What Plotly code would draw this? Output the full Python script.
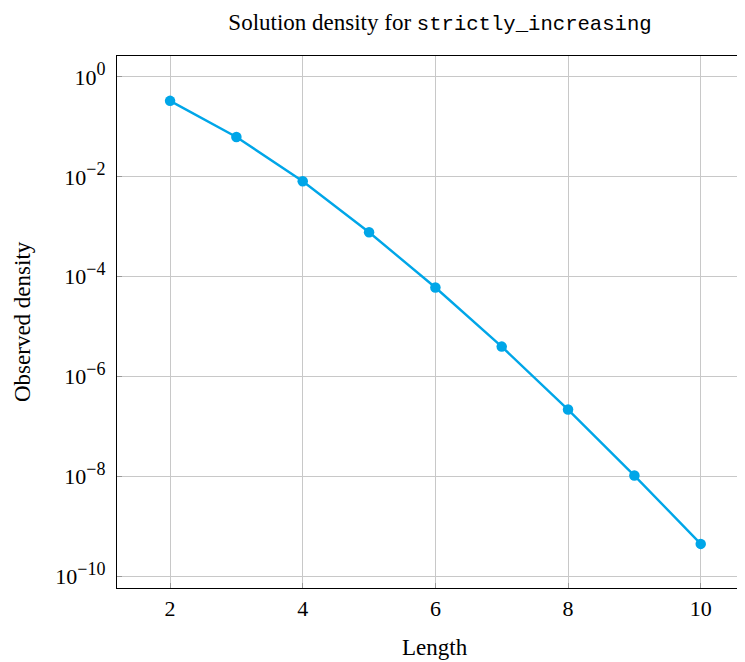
import plotly.graph_objects as go

lengths = [2, 3, 4, 5, 6, 7, 8, 9, 10]
density = [0.333, 0.063, 0.0082, 7.8e-4, 6.1e-5, 4.0e-6, 2.2e-7, 1.05e-8, 4.5e-10]

y_tickvals = [1, 1e-2, 1e-4, 1e-6, 1e-8, 1e-10]
y_exponents = ["0", "−2", "−4", "−6", "−8", "−10"]
y_ticktext = ["10<sup><span style='font-size:18px'>%s</span></sup>" % e for e in y_exponents]
x_tickvals = [2, 4, 6, 8, 10]

color = "#00A6E8"
serif = "Liberation Serif, DejaVu Serif, serif"

W, H = 729, 654

fig = go.Figure()
fig.add_trace(go.Scatter(
    x=lengths, y=density, mode="lines+markers",
    line=dict(color=color, width=2.4),
    marker=dict(color=color, size=10.5),
    showlegend=False,
))

fig.update_layout(
    width=W, height=H,
    margin=dict(l=109, r=0, t=48, b=74),
    paper_bgcolor="white", plot_bgcolor="white",
    font=dict(family=serif, size=22, color="black"),
    title=dict(
        text="Solution density for <span style=\"font-family:'Liberation Mono','DejaVu Sans Mono',monospace;font-size:20.6px\">strictly_increasing</span>",
        x=432 / W, xanchor="center", y=1 - 14 / H, yanchor="middle",
        font=dict(family=serif, size=23),
    ),
    annotations=[
        dict(text="Length", xref="paper", yref="paper", x=0.513, y=-0.111,
             xanchor="center", yanchor="middle", showarrow=False,
             font=dict(family=serif, size=23)),
        dict(text="Observed density", xref="paper", yref="paper", x=-0.1532, y=0.5,
             xanchor="center", yanchor="middle", showarrow=False, textangle=-90,
             font=dict(family=serif, size=23)),
    ],
)
fig.update_xaxes(
    range=[1.2, 10.547], tickvals=x_tickvals,
    tickfont=dict(size=22),
    showgrid=True, gridcolor="#c8c8c8", gridwidth=1,
    showline=True, linecolor="black", linewidth=1.2, mirror=True,
    ticks="inside", ticklen=5, tickcolor="#999999",
    zeroline=False,
)
fig.update_yaxes(
    type="log", range=[-10.23, 0.42],
    tickvals=y_tickvals, ticktext=y_ticktext,
    tickfont=dict(size=22), ticklabelstandoff=6,
    showgrid=True, gridcolor="#c8c8c8", gridwidth=1,
    showline=True, linecolor="black", linewidth=1.2,
    ticks="inside", ticklen=5, tickcolor="#999999",
    zeroline=False,
)

fig.write_html("out.html")
